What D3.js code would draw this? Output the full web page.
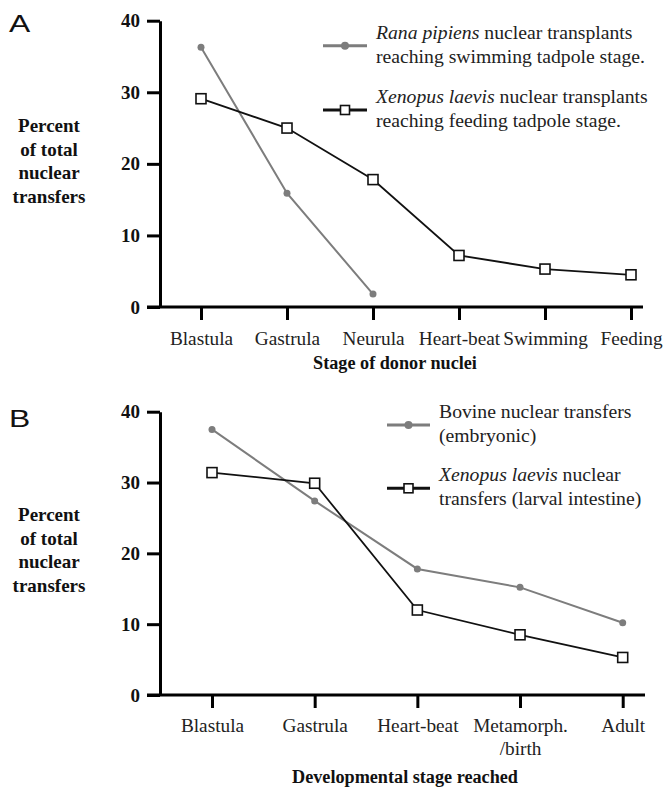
<!DOCTYPE html>
<html>
<head>
<meta charset="utf-8">
<script src="https://cdn.jsdelivr.net/npm/d3@7"></script>
<style>
  html, body { margin: 0; padding: 0; background: #fff; }
  svg { display: block; }
</style>
</head>
<body>
<svg id="chart" width="665" height="787"></svg>
<script>
// ---- Data ----
const catsA = ["Blastula", "Gastrula", "Neurula", "Heart-beat", "Swimming", "Feeding"];
const ranaA = [36.3, 15.9, 1.8];
const xenopusA = [29.1, 25.0, 17.8, 7.2, 5.3, 4.5];

const catsB = ["Blastula", "Gastrula", "Heart-beat", "Metamorph.|/birth", "Adult"];
const bovineB = [37.5, 27.4, 17.8, 15.2, 10.2];
const xenopusB = [31.4, 29.9, 12.0, 8.5, 5.3];

const yTicks = [0, 10, 20, 30, 40];
const yTitleLines = ["Percent", "of total", "nuclear", "transfers"];

const legendA = [
  { italic: "Rana pipiens", rest: " nuclear transplants", line2: "reaching swimming tadpole stage.", type: "dot" },
  { italic: "Xenopus laevis", rest: " nuclear transplants", line2: "reaching feeding tadpole stage.", type: "square" }
];
const legendB = [
  { italic: "", rest: "Bovine nuclear transfers", line2: "(embryonic)", type: "dot" },
  { italic: "Xenopus laevis", rest: " nuclear", line2: "transfers (larval intestine)", type: "square" }
];

// ---- Styles ----
const SERIF = "'Liberation Serif', 'Times New Roman', serif";
const SANS = "'Liberation Sans', Arial, sans-serif";
const GRAY = "#7d7d7d";
const BLACK = "#111";

const svg = d3.select("#chart");

function panel(cfg) {
  const g = svg.append("g");
  const x = d3.scalePoint().domain(cfg.cats).range(cfg.xRange).padding(0);
  const y = d3.scaleLinear().domain([0, 40]).range(cfg.yRange);

  // panel letter
  g.append("text").attr("transform", `translate(9,${cfg.letterY}) scale(1.3,1)`)
    .attr("font-family", SANS).attr("font-size", 24.5).attr("fill", "#111")
    .text(cfg.letter);

  // y axis
  const ya = g.append("g").attr("transform", `translate(${cfg.axisX},0)`)
    .call(d3.axisLeft(y).tickValues(yTicks).tickSize(13).tickSizeOuter(0).tickPadding(7));
  ya.select(".domain").attr("stroke", "#000").attr("stroke-width", 3);
  ya.selectAll(".tick line").attr("stroke", "#000").attr("stroke-width", 3);
  ya.selectAll(".tick text").attr("font-family", SERIF).attr("font-weight", "bold")
    .attr("font-size", 19).attr("fill", "#111");

  // x axis
  const xa = g.append("g").attr("transform", `translate(0,${y(0)})`)
    .call(d3.axisBottom(x).tickSize(13).tickSizeOuter(0).tickPadding(cfg.xPad));
  xa.select(".domain").remove();
  xa.selectAll(".tick line").attr("stroke", "#000").attr("stroke-width", 3);
  xa.selectAll(".tick text").attr("font-family", SERIF).attr("font-size", 19.3).attr("fill", "#222")
    .each(function(d) {
      const parts = d.split("|");
      const t = d3.select(this).text(null);
      parts.forEach((p, i) => {
        t.append("tspan").attr("x", 0).attr("dy", i === 0 ? "0.71em" : "1.2em").text(p);
      });
    });
  g.append("line").attr("x1", cfg.axisX - 13).attr("x2", cfg.xAxisEnd)
    .attr("y1", y(0)).attr("y2", y(0)).attr("stroke", "#000").attr("stroke-width", 3);

  // axis titles
  g.append("text").attr("x", cfg.xTitleX).attr("y", cfg.xTitleY).attr("text-anchor", "middle")
    .attr("font-family", SERIF).attr("font-weight", "bold").attr("font-size", 18.2).attr("fill", "#111")
    .text(cfg.xTitle);
  const yt = g.append("text").attr("text-anchor", "middle")
    .attr("font-family", SERIF).attr("font-weight", "bold").attr("font-size", 19).attr("fill", "#111");
  yTitleLines.forEach((l, i) => {
    yt.append("tspan").attr("x", 49).attr("y", cfg.yTitleY + i * 23.7).text(l);
  });

  const line = d3.line().x(d => x(d.c)).y(d => y(d.v));

  // gray series
  const grayData = cfg.gray.map((v, i) => ({ c: cfg.cats[i], v }));
  g.append("path").datum(grayData).attr("d", line).attr("fill", "none")
    .attr("stroke", GRAY).attr("stroke-width", 2);
  g.selectAll(".dot").data(grayData).enter().append("circle")
    .attr("cx", d => x(d.c)).attr("cy", d => y(d.v)).attr("r", 3.5).attr("fill", GRAY);

  // black series
  const blackData = cfg.black.map((v, i) => ({ c: cfg.cats[i], v }));
  g.append("path").datum(blackData).attr("d", line).attr("fill", "none")
    .attr("stroke", BLACK).attr("stroke-width", 1.8);
  g.selectAll(".sq").data(blackData).enter().append("rect")
    .attr("x", d => x(d.c) - 5).attr("y", d => y(d.v) - 5).attr("width", 10).attr("height", 10)
    .attr("fill", "#fff").attr("stroke", BLACK).attr("stroke-width", 1.6);

  // legend
  cfg.legend.forEach((L, i) => {
    const ly = cfg.legendY[i];
    const lx0 = cfg.legendX0, lx1 = cfg.legendX1;
    const col = L.type === "dot" ? GRAY : BLACK;
    g.append("line").attr("x1", lx0).attr("x2", lx1).attr("y1", ly).attr("y2", ly)
      .attr("stroke", col).attr("stroke-width", 3);
    const mx = (lx0 + lx1) / 2;
    if (L.type === "dot") {
      g.append("circle").attr("cx", mx).attr("cy", ly).attr("r", 4).attr("fill", GRAY);
    } else {
      g.append("rect").attr("x", mx - 4.5).attr("y", ly - 4.5).attr("width", 9).attr("height", 9)
        .attr("fill", "#fff").attr("stroke", BLACK).attr("stroke-width", 1.6);
    }
    const t = g.append("text").attr("font-family", SERIF).attr("font-size", 19.7).attr("fill", "#222");
    const t1 = t.append("tspan").attr("x", cfg.legendTextX).attr("y", cfg.legendBase[i]);
    if (L.italic) t1.append("tspan").attr("font-style", "italic").text(L.italic);
    t1.append("tspan").text(L.rest);
    t.append("tspan").attr("x", cfg.legendTextX).attr("y", cfg.legendBase[i] + 24).text(L.line2);
  });
}

panel({
  letter: "A", letterY: 31.7,
  cats: catsA, gray: ranaA, black: xenopusA,
  xRange: [201, 631], yRange: [307, 20.7], axisX: 160, xAxisEnd: 643, xPad: 11.5,
  xTitle: "Stage of donor nuclei", xTitleX: 395, xTitleY: 369,
  yTitleY: 132,
  legend: legendA, legendY: [45.7, 110], legendX0: 323, legendX1: 367,
  legendTextX: 376, legendBase: [39, 102.7]
});

panel({
  letter: "B", letterY: 426.7,
  cats: catsB, gray: bovineB, black: xenopusB,
  xRange: [212, 622.7], yRange: [695, 411.7], axisX: 160, xAxisEnd: 645, xPad: 10,
  xTitle: "Developmental stage reached", xTitleX: 405, xTitleY: 783,
  yTitleY: 521,
  legend: legendB, legendY: [425, 488.3], legendX0: 387, legendX1: 430,
  legendTextX: 439, legendBase: [418, 481]
});
</script>
</body>
</html>
